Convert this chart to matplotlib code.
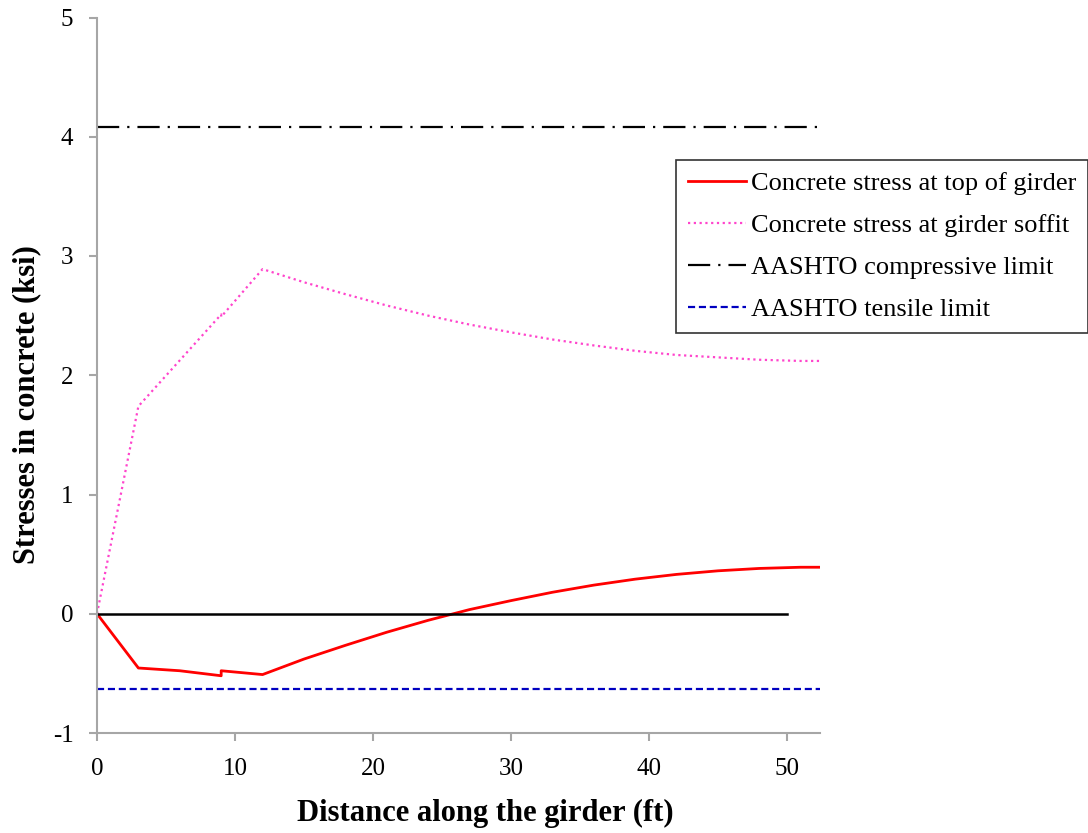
import matplotlib
matplotlib.use('Agg')
import matplotlib.pyplot as plt

plt.rcParams['font.family'] = ['Liberation Serif', 'DejaVu Serif']
plt.rcParams['axes.unicode_minus'] = False

# Напряжения в верхней фибре балки (ksi)
x_top = [0, 3, 6, 9, 9, 12, 15, 18, 21, 24, 27, 30, 33, 36, 39, 42, 45, 48, 51, 52.4]
top_stress = [0, -0.455, -0.478, -0.52, -0.478, -0.51, -0.38, -0.265, -0.155, -0.055,
              0.035, 0.11, 0.18, 0.24, 0.29, 0.33, 0.36, 0.38, 0.39, 0.39]

# Напряжения в нижней фибре (soffit)
x_soffit = [0, 3, 9, 9, 12, 15, 18, 21, 24, 27, 30, 33, 36, 39, 42, 45, 48, 51, 52.4]
soffit_stress = [0, 1.74, 2.51, 2.49, 2.89, 2.78, 2.68, 2.585, 2.50, 2.425, 2.36,
                 2.30, 2.25, 2.205, 2.17, 2.15, 2.13, 2.12, 2.12]

# Пределы AASHTO
x_limits = [0, 52.4]
compressive_limit = [4.08, 4.08]
tensile_limit = [-0.63, -0.63]

# Нулевая линия
x_zero = [0, 50]
zero_line = [0, 0]

fig = plt.figure(figsize=(10.88, 8.33), dpi=100)
ax = fig.add_axes([97 / 1088, 1 - 733 / 833, (820 - 97) / 1088, (733 - 17.5) / 833])

l1, = ax.plot(x_top, top_stress, color='#ff0000', linewidth=2.0,
              label='Concrete stress at top of girder')
l2, = ax.plot(x_soffit, soffit_stress, color='#ff44cc', linewidth=1.6,
              linestyle=(0, (1, 1.6)), label='Concrete stress at girder soffit')
l3, = ax.plot(x_limits, compressive_limit, color='black', linewidth=1.6,
              linestyle=(0, (10, 3.6, 1, 3.6)), label='AASHTO compressive limit')
l4, = ax.plot(x_limits, tensile_limit, color='#0000c0', linewidth=1.6,
              linestyle=(0, (3.2, 1.7)), label='AASHTO tensile limit')
ax.plot(x_zero, zero_line, color='black', linewidth=1.8)

ax.set_xlim(0, 52.4)
ax.set_ylim(-1, 5)
ax.set_xticks(range(0, 51, 10))
ax.set_yticks(range(-1, 6))

for side in ['top', 'right']:
    ax.spines[side].set_visible(False)
for side in ['left', 'bottom']:
    ax.spines[side].set_color('#a6a6a6')
    ax.spines[side].set_linewidth(1.5)
ax.tick_params(axis='both', direction='out', length=6, width=1.5, color='#a6a6a6',
               labelsize=18, labelcolor='black')
ax.tick_params(axis='y', pad=11)
ax.tick_params(axis='x', pad=12)

fig.text(485 / 1088, 1 - 813 / 833, 'Distance along the girder (ft)', fontsize=22,
         fontweight='bold', ha='center', va='center')
fig.text(27 / 1088, 1 - 405 / 833, 'Stresses in concrete (ksi)', fontsize=22,
         fontweight='bold', ha='center', va='center', rotation=90)

leg = ax.legend(handles=[l1, l2, l3, l4], loc='upper left',
                bbox_to_anchor=(676 / 1088, 1 - 160 / 833), bbox_transform=fig.transFigure,
                borderaxespad=0, fontsize=19, frameon=True, fancybox=False,
                handlelength=2.2, handletextpad=0.2, labelspacing=0.7, borderpad=0.45)
leg.get_frame().set_edgecolor('black')
leg.get_frame().set_linewidth(1.2)

plt.savefig('out.png', dpi=100)
